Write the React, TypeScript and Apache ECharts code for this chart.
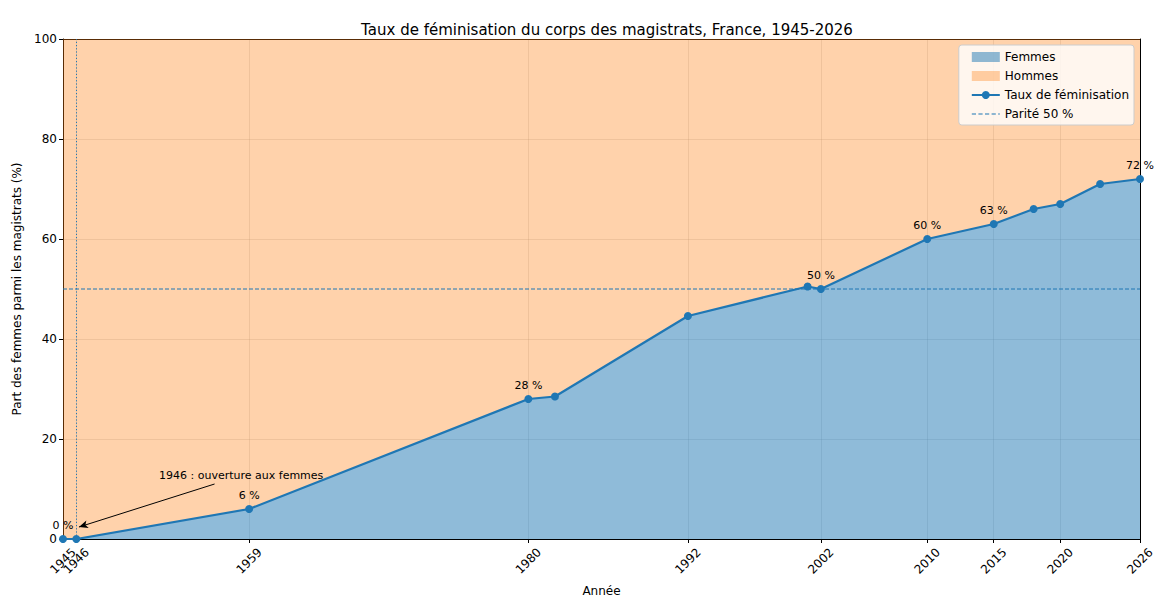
import React, { useEffect, useRef } from "react";
import * as echarts from "echarts";

const years = [1945, 1946, 1959, 1980, 1982, 1992, 2001, 2002, 2010, 2015, 2018, 2020, 2023, 2026];
const rates = [0, 0, 6, 28, 28.5, 44.6, 50.5, 50, 60, 63, 66, 67, 71, 72];
const labeledYears = [1945, 1959, 1980, 2002, 2010, 2015, 2026];
const tickYears = [1945, 1946, 1959, 1980, 1992, 2002, 2010, 2015, 2020, 2026];
const parity = 50;
const openingYear = 1946;
const annotationText = "1946 : ouverture aux femmes";
const annotationTextAt = [1958.4, 12.8];
const annotationArrowFrom = [1956.4, 11];
const annotationArrowTo = [1946.2, 2.4];

const FONT = "DejaVu Sans";
const BLUE = "#1f77b4";
const DASH_ICON =
  "path://M0,4.4h4.2v1.2h-4.2z M6.6,4.4h4.2v1.2h-4.2z M13.2,4.4h4.2v1.2h-4.2z M19.8,4.4h4.2v1.2h-4.2z M26.4,4.4h1.6v1.2h-1.6z M0,0h0.01v0.01h-0.01z M27.99,9.99h0.01v0.01h-0.01z";

export default function App() {
  const ref = useRef<HTMLDivElement>(null);
  useEffect(() => {
    if (!ref.current) return;
    const chart = echarts.init(ref.current, null, { renderer: "svg" });
    const femmes = years.map((y, i) => [y, rates[i]]);
    const taux = years.map((y, i) => ({
      value: [y, rates[i]],
      label: {
        show: labeledYears.includes(y),
        position: "top",
        distance: 4,
        formatter: `${Math.round(rates[i])} %`,
        fontSize: 11,
        color: "#000",
        fontFamily: FONT,
      },
    }));
    const xMin = years[0];
    const xMax = years[years.length - 1];
    const mainLabels = tickYears.filter((y) => y !== openingYear);
    const extraLabels = tickYears.filter((y) => y === openingYear);
    const tickLabelStyle = {
      showMinLabel: true,
      showMaxLabel: true,
      hideOverlap: false,
      rotate: 45,
      align: "center",
      verticalAlign: "middle",
      margin: 22,
      fontSize: 12,
      color: "#000",
      fontFamily: FONT,
      formatter: (v: number) => String(v),
    };
    chart.setOption({
      animation: false,
      textStyle: { fontFamily: FONT },
      title: {
        text: "Taux de féminisation du corps des magistrats, France, 1945-2026",
        left: 602,
        top: 17,
        textAlign: "center",
        textStyle: { fontSize: 15, fontWeight: "normal", color: "#000", fontFamily: FONT },
      },
      legend: {
        orient: "vertical",
        right: 36,
        top: 45,
        backgroundColor: "rgba(255,255,255,0.8)",
        borderColor: "#cccccc",
        borderWidth: 1,
        borderRadius: 3,
        padding: [6, 5, 5, 12],
        itemWidth: 28,
        itemHeight: 10,
        itemGap: 7,
        textStyle: { fontSize: 12, color: "#000", fontFamily: FONT },
        data: [
          { name: "Femmes", icon: "rect", itemStyle: { color: "rgba(31,119,180,0.5)" } },
          { name: "Hommes", icon: "rect", itemStyle: { color: "rgba(255,127,14,0.35)" } },
          { name: "Taux de féminisation" },
          { name: "Parité 50 %", icon: DASH_ICON, itemStyle: { color: BLUE, borderWidth: 0 } },
        ],
      },
      grid: { left: 63, right: 30, top: 39, bottom: 68 },
      xAxis: [
        {
          type: "value",
          position: "bottom",
          min: xMin,
          max: xMax,
          name: "Année",
          nameLocation: "middle",
          nameGap: 46,
          nameTextStyle: { fontSize: 12, color: "#000", fontFamily: FONT },
          axisLine: { show: true, onZero: false, lineStyle: { color: "#000", width: 1 } },
          axisTick: { show: true, length: 4, customValues: tickYears, lineStyle: { color: "#000" } },
          axisLabel: { ...tickLabelStyle, customValues: mainLabels },
          splitLine: { show: true, lineStyle: { color: "rgba(176,176,176,0.4)", width: 0.8 } },
        },
        {
          type: "value",
          position: "top",
          min: xMin,
          max: xMax,
          axisLine: { show: true, onZero: false, lineStyle: { color: "#000", width: 1 } },
          axisTick: { show: false },
          axisLabel: { show: false },
          splitLine: { show: false },
        },
        {
          type: "value",
          position: "bottom",
          min: xMin,
          max: xMax,
          axisLine: { show: false, onZero: false },
          axisTick: { show: false, customValues: extraLabels },
          axisLabel: { ...tickLabelStyle, customValues: extraLabels },
          splitLine: { show: false },
        },
      ],
      yAxis: [
        {
          type: "value",
          min: 0,
          max: 100,
          interval: 20,
          name: "Part des femmes parmi les magistrats (%)",
          nameLocation: "middle",
          nameGap: 36,
          nameTextStyle: { fontSize: 12, color: "#000", fontFamily: FONT },
          axisLine: { show: true, onZero: false, lineStyle: { color: "#000", width: 1 } },
          axisTick: { show: true, length: 4, lineStyle: { color: "#000" } },
          axisLabel: { fontSize: 12, color: "#000", margin: 6, fontFamily: FONT },
          splitLine: { show: true, lineStyle: { color: "rgba(176,176,176,0.4)", width: 0.8 } },
        },
        {
          type: "value",
          position: "right",
          min: 0,
          max: 100,
          axisLine: { show: true, onZero: false, lineStyle: { color: "#000", width: 1 } },
          axisTick: { show: false },
          axisLabel: { show: false },
          splitLine: { show: false },
        },
      ],
      series: [
        {
          name: "Femmes",
          type: "line",
          data: femmes,
          symbol: "none",
          lineStyle: { width: 0 },
          itemStyle: { color: "rgba(31,119,180,0.5)" },
          areaStyle: { color: BLUE, opacity: 0.5, origin: "start" },
          z: 1,
          silent: true,
        },
        {
          name: "Hommes",
          type: "line",
          data: femmes,
          symbol: "none",
          lineStyle: { width: 0 },
          itemStyle: { color: "rgba(255,127,14,0.35)" },
          areaStyle: { color: "#ff7f0e", opacity: 0.35, origin: "end" },
          z: 1,
          silent: true,
        },
        {
          name: "Parité 50 %",
          type: "line",
          data: [
            [xMin, parity],
            [xMax, parity],
          ],
          symbol: "none",
          lineStyle: { color: BLUE, width: 1, type: [4, 2] },
          itemStyle: { color: BLUE },
          z: 3,
          silent: true,
        },
        {
          name: "Taux de féminisation",
          type: "line",
          data: taux,
          symbol: "circle",
          symbolSize: 8,
          showAllSymbol: true,
          lineStyle: { color: BLUE, width: 2.2 },
          itemStyle: { color: BLUE },
          z: 5,
          silent: true,
          markLine: {
            silent: true,
            symbol: ["none", "none"],
            label: { show: false },
            data: [
              {
                xAxis: openingYear,
                lineStyle: { color: BLUE, width: 1, type: [1.2, 2] },
              },
              [
                { coord: annotationArrowFrom, symbol: "none" },
                { coord: annotationArrowTo, symbol: "arrow", symbolSize: [6, 9] },
              ].map((p) => ({ ...p, lineStyle: { color: "#000", width: 1, type: "solid" } })),
            ],
          },
          markPoint: {
            silent: true,
            symbol: "rect",
            symbolSize: 1,
            itemStyle: { color: "rgba(0,0,0,0)" },
            data: [
              {
                coord: annotationTextAt,
                label: {
                  show: true,
                  position: "inside",
                  formatter: annotationText,
                  fontSize: 11,
                  color: "#000",
                  fontFamily: FONT,
                },
              },
            ],
          },
        },
      ],
    });
    return () => chart.dispose();
  }, []);
  return (
    <div
      ref={ref}
      style={{ position: "absolute", left: 0, top: 0, width: 1170, height: 607, background: "#fff" }}
    />
  );
}
